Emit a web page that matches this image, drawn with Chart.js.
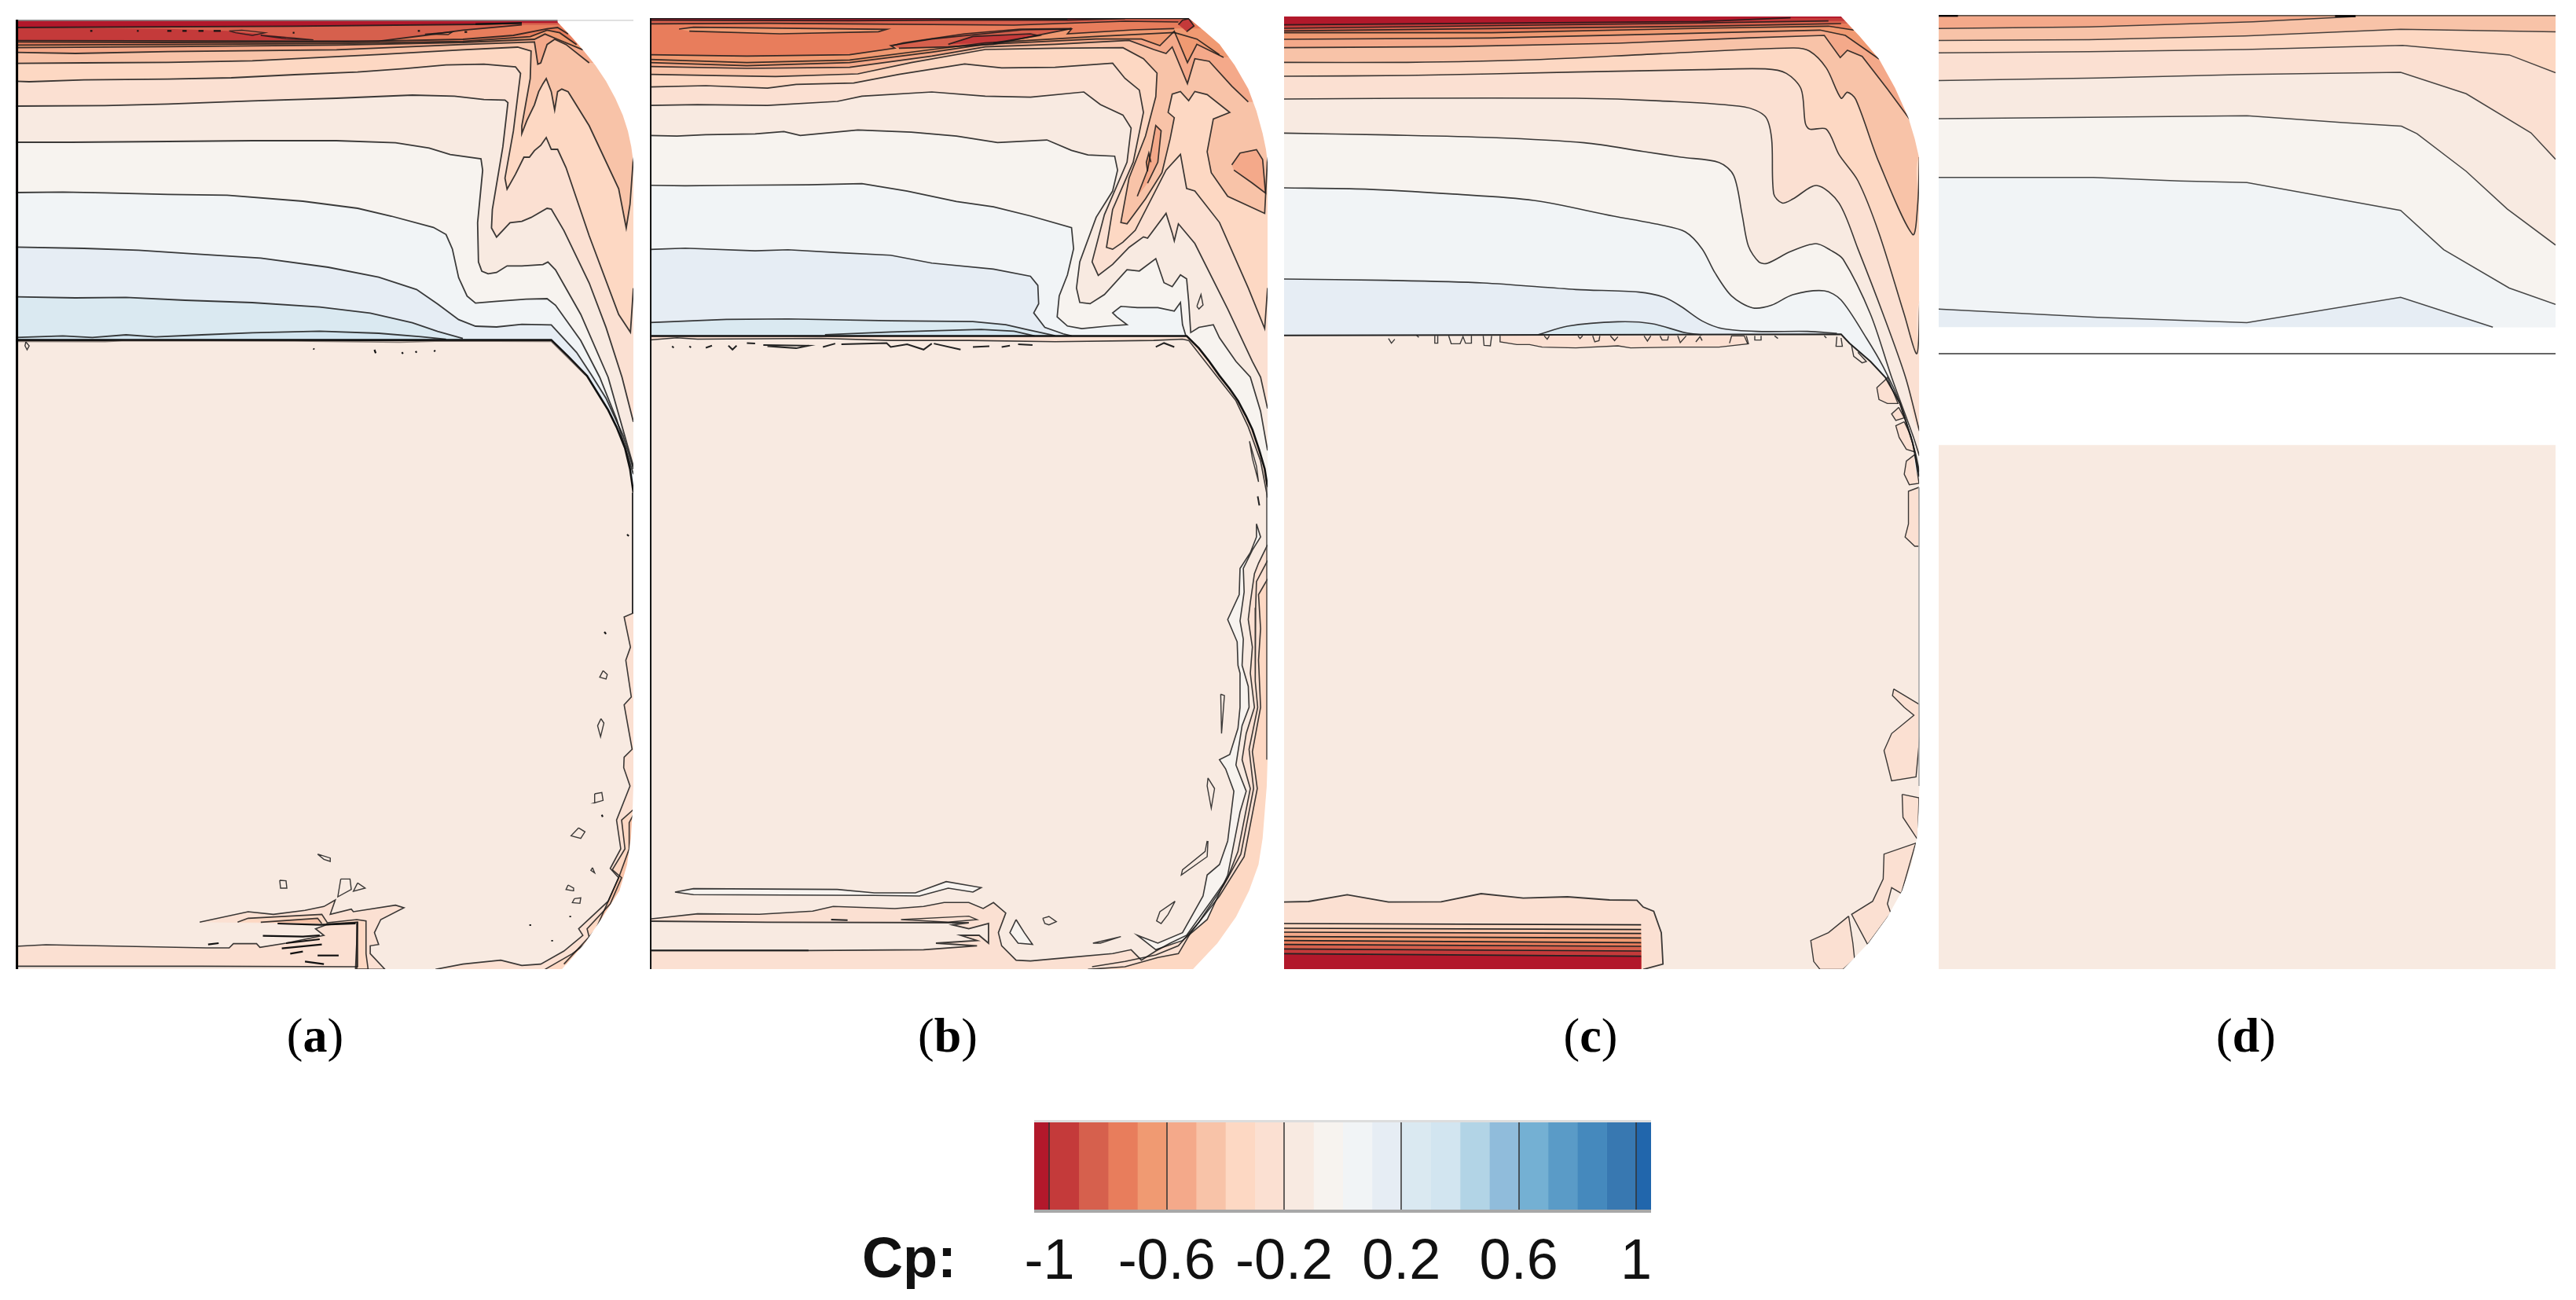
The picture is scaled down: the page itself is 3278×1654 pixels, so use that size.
<!DOCTYPE html>
<html>
<head>
<meta charset="utf-8">
<title>Cp contours</title>
<script src="https://cdn.jsdelivr.net/npm/chart.js@4/dist/chart.umd.min.js"></script>
<style>
  html, body { margin: 0; background: #fff; width: 3278px; height: 1654px; overflow: hidden; }
  canvas { position: absolute; }
  .sub { position: absolute; top: 1282px; width: 200px; text-align: center; font: 62px "Liberation Serif", serif; color: #000; line-height: 70px; }
  .sub b { font-weight: bold; }
  #cpTitle { position: absolute; left: 1097px; top: 1558px; font: bold 72px "Liberation Sans", sans-serif; color: #111; line-height: 84px; }
</style>
</head>
<body>
<canvas id="panelA"></canvas>
<canvas id="panelB"></canvas>
<canvas id="panelC"></canvas>
<canvas id="panelD"></canvas>
<canvas id="colorbar" width="980" height="244"></canvas>
<div class="sub" style="left:301px">(<b>a</b>)</div>
<div class="sub" style="left:1106px">(<b>b</b>)</div>
<div class="sub" style="left:1924px">(<b>c</b>)</div>
<div class="sub" style="left:2758px">(<b>d</b>)</div>
<div id="cpTitle">Cp:</div>

<script>
// ---- colour scale ----
const cpEdges = [-1.052, -1, -0.9, -0.8, -0.7, -0.6, -0.5, -0.4, -0.3, -0.2, -0.1, 0, 0.1, 0.2, 0.3, 0.4, 0.5, 0.6, 0.7, 0.8, 0.9, 1, 1.051];
const cpColors = ['#B2182B', '#C43A3A', '#D6604D', '#E87D5C', '#F09A72', '#F4A98A', '#F8C3A8', '#FDD8C3', '#FBE0D2', '#F8EAE1', '#F7F3EF',
                  '#F1F4F6', '#E6EDF4', '#DAE9F1', '#D2E5F0', '#B2D4E6', '#90BCDB', '#74B0D3', '#5A9BC7', '#4589BD', '#3878B1', '#2166AC'];
const cpTicks = [-1, -0.6, -0.2, 0.2, 0.6, 1];

// ---- panel (a) contours ----
const aSep = [[38,1298],[1310,1298],[1350,1360],[1395,1435],[1420,1500],[1445,1565],[1465,1630],[1485,1710],[1497,1790],[1505,1880]];
const aC1280 = [[38,1288],[150,1282],[220,1288],[300,1278],[370,1286],[480,1278],[600,1270],[760,1264],[900,1272],[1000,1285],[1060,1295]];
const aC1133 = [[38,1133],[180,1137],[300,1135],[440,1146],[600,1155],[760,1172],[880,1195],[980,1232],[1040,1265],[1100,1292]];
const aC943 = [[38,943],[200,948],[330,955],[450,968],[620,985],[780,1020],[900,1058],[990,1105],[1040,1160],[1090,1220],[1130,1245],[1180,1248],[1240,1238],[1310,1240],[1370,1345],[1405,1430],[1440,1520],[1480,1660],[1505,1790]];
const aC733 = [[38,735],[150,733],[250,736],[400,742],[540,745],[720,768],[850,795],[930,825],[1030,868],[1060,895],[1075,950],[1090,1060],[1110,1130],[1130,1157],[1180,1150],[1250,1142],[1300,1140],[1320,1165],[1380,1300],[1425,1440],[1465,1600],[1505,1810]];
const aC542 = [[38,543],[170,543],[400,540],[600,537],[800,537],[940,545],[1020,565],[1070,590],[1143,606],[1147,650],[1135,850],[1137,1000],[1145,1035],[1160,1045],[1180,1040],[1205,1015],[1240,1015],[1290,1010],[1302,1000],[1320,1030],[1380,1200],[1445,1440],[1505,1780]];
const aC403 = [[38,405],[250,403],[400,397],[600,385],[800,375],[980,363],[1080,367],[1150,380],[1200,382],[1207,392],[1195,560],[1170,800],[1168,870],[1180,905],[1212,850],[1240,845],[1262,830],[1300,795],[1310,798],[1340,880],[1400,1080],[1440,1250],[1478,1440],[1505,1610]];
const aC310 = [[38,310],[70,312],[200,305],[400,302],[550,297],[700,285],[850,275],[960,262],[1060,248],[1150,245],[1225,255],[1237,280],[1220,500],[1200,680],[1205,722],[1225,665],[1245,600],[1258,600],[1270,575],[1285,555],[1298,525],[1310,570],[1325,570],[1345,640],[1400,900],[1470,1200],[1498,1268],[1505,1100]];
const aC242 = [[38,242],[200,240],[400,238],[600,232],[900,208],[1100,190],[1230,180],[1262,195],[1260,300],[1240,480],[1240,510],[1252,460],[1270,400],[1280,350],[1290,320],[1298,300],[1310,350],[1318,420],[1325,350],[1335,340],[1350,350],[1400,480],[1470,720],[1488,870],[1497,780],[1505,600]];
const aC200 = [[38,200],[180,204],[400,197],[800,190],[1100,170],[1270,160],[1278,245],[1285,240],[1300,170],[1318,150],[1345,170],[1400,240]];
const aC182 = [[38,182],[400,178],[800,172],[1100,162],[1270,150],[1295,130],[1325,150],[1385,190]];
const aC172 = [[38,172],[400,170],[800,166],[1100,158],[1260,140],[1300,115],[1330,125],[1370,170]];
const aC160 = [[38,160],[400,162],[800,160],[1100,150],[1220,135],[1300,110],[1325,105],[1350,130]];
const aC155 = [[38,155],[900,157],[1010,135],[1100,115],[1240,95]];
const aC105 = [[38,105],[700,100],[1130,93],[1240,88]];
const aRed = [[38,155],[745,153],[620,130],[540,118],[400,110],[38,105]];
const aStrip = [[1505,2340],[1483,2355],[1498,2470],[1487,2520],[1500,2660],[1483,2690],[1502,2860],[1483,2890],[1482,2930],[1497,3000],[1465,3130],[1475,3240],[1450,3315],[1470,3350],[1445,3440],[1375,3545],[1385,3570],[1340,3630],[1285,3680],[1240,3685],[1190,3665],[1100,3680],[1035,3700]];
const aStripIn = [[1505,3090],[1477,3130],[1485,3240],[1455,3320],[1477,3350],[1450,3450],[1395,3545],[1402,3590],[1360,3640],[1295,3700]];
const aStripEdge = [[1505,3110],[1495,3140],[1495,3240],[1470,3350],[1415,3550],[1340,3680]];
const aBottom = [[38,3612],[110,3606],[300,3612],[490,3618],[545,3618],[555,3602],[610,3602],[618,3616],[680,3600],[770,3570],[750,3545],[775,3530],[850,3520],[850,3690],[480,3688],[38,3688]];
const aTongue = [[475,3520],[590,3480],[650,3490],[725,3475],[770,3460],[797,3435],[785,3490],[835,3470],[840,3480],[940,3455],[960,3465],[905,3510],[890,3560],[900,3605],[880,3610],[880,3640],[915,3700],[845,3700],[850,3520],[775,3527]];
const aTongueIn = [[565,3520],[590,3505],[765,3490],[778,3522],[848,3510],[870,3515],[870,3640],[875,3700],[848,3700],[848,3525]];
const aTongueCore = [[620,3520],[755,3505],[765,3525]];
const aIslands = [
  [[1433,2560],[1425,2585],[1440,2592],[1443,2575],[1433,2560]],
  [[1428,2743],[1420,2770],[1427,2812],[1435,2760],[1428,2743]],
  [[1413,3030],[1430,3025],[1433,3055],[1412,3065],[1413,3030]],
  [[1375,3160],[1357,3190],[1380,3200],[1390,3175],[1375,3160]],
  [[1408,3312],[1404,3322],[1413,3332],[1408,3312]],
  [[1350,3378],[1345,3395],[1362,3400],[1363,3390],[1350,3378]],
  [[1365,3430],[1360,3445],[1378,3448],[1380,3427],[1365,3430]],
  [[755,3260],[785,3275],[785,3288],[770,3280],[755,3260]],
  [[665,3360],[680,3362],[682,3390],[667,3390],[665,3360]],
  [[810,3355],[832,3355],[835,3395],[803,3423],[810,3355]],
  [[850,3370],[868,3390],[840,3402],[850,3370]],
  [[62,1305],[70,1320],[65,1335],[60,1320],[62,1305]],
  [[545,118],[575,115],[630,125],[600,135],[560,125],[545,118]],
  [[620,135],[700,145],[745,152],[680,148],[620,135]],
  [[1010,130],[1075,122],[1065,132],[1010,130]]
];
const aDashes = [
  [[660,3525],[760,3530],[845,3525]], [[625,3572],[720,3575],[760,3570]], [[680,3600],[760,3585]], [[670,3620],[765,3605]],
  [[690,3640],[720,3632]], [[755,3647],[805,3647]], [[725,3670],[770,3680]], [[495,3605],[520,3600]],
  [[1490,2040],[1494,2046]], [[1436,2412],[1440,2420]], [[1430,3110],[1432,3118]], [[1355,3496],[1355,3501]], [[1260,3528],[1260,3534]], [[1312,3588],[1312,3593]],
  [[215,118],[220,118]], [[326,118],[330,118]], [[398,118],[408,118]], [[434,118],[444,118]], [[472,118],[484,118]], [[508,118],[525,118]], [[696,125],[700,125]], [[993,118],[998,118]], [[1104,122],[1110,122]],
  [[890,1335],[893,1348]], [[745,1330],[747,1334]], [[955,1345],[958,1350]], [[988,1340],[990,1346]], [[1032,1337],[1034,1342]],
  [[1130,92],[1240,88]]
];
const aUnderSep = [[38,1303],[250,1304],[300,1300],[700,1302],[950,1306],[1050,1302],[1310,1303],[1390,1430]];
const aMask = [[1325,60],[1325,85],[1355,135],[1385,190],[1415,250],[1440,310],[1462,375],[1480,440],[1492,500],[1500,560],[1505,620],[1505,3000],[1503,3100],[1499,3200],[1490,3300],[1472,3400],[1432,3500],[1390,3600],[1335,3700],[1600,3720],[1600,60]];

// ---- panel (b) contours ----
const bSep = [[14,1283],[1320,1283],[1350,1330],[1375,1380],[1400,1435],[1425,1485],[1445,1530],[1465,1590],[1480,1640],[1497,1720],[1510,1790],[1517,1860]];
const bUnderSep = [[14,1298],[80,1290],[130,1295],[430,1292],[600,1300],[790,1300],[1000,1305],[1240,1300],[1310,1295],[1325,1300],[1390,1430],[1440,1530],[1470,1630],[1500,1760],[1517,1900]];
const bLens = [[440,1278],[600,1268],[820,1258],[900,1265],[950,1283]];
const bC1232 = [[14,1232],[200,1220],[350,1218],[600,1225],[800,1228],[880,1240],[930,1258],[1000,1282]];
const bC950 = [[14,953],[100,948],[270,958],[350,954],[470,965],[600,975],[700,1005],[850,1028],[940,1055],[958,1090],[960,1160],[948,1195],[975,1250],[1020,1275],[1040,1283]];
const bC708 = [[14,708],[100,710],[210,708],[400,706],[530,702],[640,730],[760,770],[850,790],[940,825],[1040,870],[1045,950],[1030,1050],[1010,1130],[1005,1210],[1030,1245],[1065,1255],[1130,1245],[1175,1240],[1150,1210],[1140,1195],[1160,1170],[1200,1175],[1250,1175],[1290,1188],[1305,1155],[1310,1240],[1318,1282]];
const bC518 = [[14,518],[80,520],[150,515],[270,512],[340,503],[380,518],[520,497],[650,505],[760,520],[860,545],[980,535],[1040,575],[1080,592],[1145,597],[1152,650],[1140,730],[1100,830],[1060,1000],[1052,1100],[1060,1155],[1085,1160],[1120,1125],[1175,1030],[1205,1035],[1245,988],[1265,1080],[1285,1095],[1305,1050],[1320,1065],[1325,1150],[1330,1270],[1350,1250],[1385,1240],[1400,1290],[1440,1380],[1475,1440],[1500,1570],[1517,1720]];
const bC403 = [[14,403],[130,400],[300,403],[470,388],[530,368],[700,352],[830,368],[940,372],[1070,352],[1110,400],[1165,440],[1185,490],[1175,620],[1120,820],[1090,1000],[1105,1052],[1140,1010],[1180,945],[1215,905],[1225,910],[1270,815],[1285,890],[1290,920],[1300,855],[1340,930],[1420,1180],[1480,1380],[1500,1440],[1517,1560]];
const bC330 = [[14,333],[150,328],[300,337],[370,323],[510,318],[620,285],[780,245],[870,260],[1000,258],[1140,242],[1170,300],[1205,345],[1215,430],[1190,620],[1140,800],[1125,945],[1140,952],[1165,925],[1195,880],[1270,650],[1305,590],[1320,720],[1340,730],[1400,850],[1470,1100],[1510,1255],[1517,1100]];
const bC290 = [[14,285],[200,290],[320,293],[520,283],[650,240],[830,190],[1000,185],[1165,183],[1215,225],[1248,280],[1245,370],[1220,520],[1180,680],[1160,850],[1175,855],[1220,760],[1260,660],[1280,530],[1290,450],[1275,430],[1285,360],[1305,350],[1325,385],[1340,350],[1370,362],[1425,430],[1385,455],[1370,580],[1380,660],[1420,750],[1510,815],[1517,600]];
const bC262 = [[14,255],[250,262],[500,258],[700,215],[830,180],[1000,170],[1180,155],[1240,190],[1270,205],[1285,180],[1322,320],[1340,225],[1375,235],[1430,330],[1470,390]];
const bC240 = [[14,240],[250,252],[500,240],[700,200],[830,170],[1100,150],[1210,150],[1255,175],[1290,120],[1322,240],[1345,170],[1410,220]];
const bC228 = [[14,228],[250,240],[500,230],[700,190],[830,165],[1100,140],[1290,125],[1345,150],[1400,210]];
const bC92 = [[14,92],[300,90],[900,97],[1170,82],[1300,85]];
const bC78 = [[14,78],[500,80],[720,78],[1030,78],[1170,72]];
const bC210 = [[14,210],[250,215],[500,210],[610,185],[600,175],[700,150],[920,115],[1040,112],[1030,130],[1190,115],[1290,110]];
const bLensLight = [[85,112],[120,105],[590,113],[570,122],[330,130],[110,120]];
const bLensMid = [[605,175],[630,165],[780,130],[915,112],[1040,110],[960,135],[850,170],[740,180],[620,185]];
const bLensRed = [[740,170],[800,140],[940,130],[960,137],[850,165]];
const bPeak = [[1300,95],[1310,78],[1325,72],[1338,100],[1320,122]];
const bTongueLens = [[1200,750],[1225,650],[1245,480],[1258,500],[1250,620],[1225,700]];
const bTongueCore = [[1225,655],[1222,620],[1228,585],[1233,620]];
const bSideLens = [[1430,630],[1450,585],[1490,572],[1505,610],[1512,738],[1480,700],[1435,650]];
const bOuter = [[1517,2080],[1495,2150],[1485,2190],[1475,2300],[1470,2365],[1480,2470],[1475,2570],[1485,2700],[1465,2800],[1455,2900],[1475,3010],[1445,3250],[1420,3350],[1375,3450],[1320,3570],[1280,3600],[1245,3630],[1210,3665],[1185,3625],[1140,3640],[1030,3655],[940,3668],[905,3665],[870,3610],[862,3560],[880,3485],[850,3445],[825,3468],[790,3445],[730,3445],[680,3460],[610,3468],[460,3460],[410,3478],[280,3490],[130,3488],[14,3508]];
const bOuterClose = [[14,3700],[1600,3700],[1600,2080]];
const bPocket = [[14,3516],[300,3520],[790,3522],[750,3530],[790,3545],[838,3525],[838,3600],[815,3570],[770,3570],[810,3590],[710,3600],[810,3610],[680,3625],[400,3628],[14,3628]];
const bEdgeStrip = [[1517,2210],[1495,2270],[1500,2400],[1495,2520],[1500,2700],[1480,2870],[1492,3010],[1460,3270],[1400,3420],[1330,3560],[1300,3640],[1250,3655],[1170,3690],[1080,3700]];
const bMidLine = [[1517,2140],[1490,2220],[1488,2320],[1487,2470],[1487,2600],[1493,2700],[1472,2860],[1483,3010],[1452,3260],[1410,3380],[1350,3520],[1300,3610],[1245,3645],[1170,3670],[1090,3690]];
const bSliver = [[1490,2000],[1490,2050],[1475,2110],[1450,2170],[1448,2270],[1420,2365],[1443,2450],[1445,2540],[1450,2570],[1450,2700],[1445,2780],[1425,2880],[1400,2900],[1415,2935],[1435,3020],[1420,3210],[1400,3300],[1370,3340],[1360,3420],[1310,3560],[1250,3600],[1200,3570],[1245,3625],[1310,3590],[1370,3510],[1420,3340],[1450,3100],[1465,3020],[1440,2920],[1455,2770],[1472,2700],[1470,2620],[1455,2540],[1458,2440],[1450,2370],[1460,2260],[1458,2170],[1480,2100],[1500,2050],[1490,2000]];
const bFeather = [[75,3405],[120,3392],[470,3395],[560,3408],[660,3408],[735,3365],[820,3388],[800,3405],[740,3390],[670,3420],[560,3418],[120,3415],[75,3405]];
const bWedge = [[905,3510],[890,3560],[910,3600],[945,3605],[925,3560],[905,3510]];
const bIslands = [
  [[970,3505],[985,3498],[1003,3518],[985,3530],[975,3525],[970,3505]],
  [[1092,3600],[1160,3575],[1110,3600],[1092,3600]],
  [[1292,3440],[1255,3480],[1247,3515],[1258,3525],[1275,3490],[1292,3440]],
  [[1370,3210],[1365,3250],[1310,3320],[1307,3340],[1370,3270],[1372,3210]],
  [[1372,2970],[1388,3010],[1380,3085],[1370,3000],[1372,2970]],
  [[1345,1170],[1355,1125],[1360,1165],[1350,1180],[1345,1170]],
  [[625,3510],[790,3497],[810,3510],[740,3520],[625,3510]],
  [[1473,1685],[1490,1780],[1495,1840],[1480,1750],[1473,1685]],
  [[1403,2650],[1412,2655],[1405,2800],[1403,2650]]
];
const bDashes = [
  [[455,3510],[495,3512]], [[1493,1895],[1497,1930]], [[14,3628],[400,3628]],
  [[290,1318],[400,1320],[370,1330],[300,1322]], [[435,1325],[465,1312]], [[480,1315],[590,1310],[600,1325],[640,1315],[680,1335],[700,1312]],
  [[705,1312],[770,1335]], [[800,1325],[840,1322]], [[870,1325],[890,1320]], [[910,1315],[945,1318]], [[1245,1325],[1265,1310],[1290,1325]],
  [[205,1320],[215,1335],[225,1320]], [[250,1310],[270,1312]], [[68,1322],[72,1328]], [[110,1322],[114,1327]], [[150,1328],[165,1320]],
  [[720,73],[1030,74]]
];
const bMask = [[1325,50],[1325,70],[1362,118],[1400,170],[1437,250],[1470,340],[1490,425],[1505,510],[1513,570],[1517,620],[1517,2900],[1515,3000],[1510,3100],[1505,3200],[1495,3300],[1472,3400],[1440,3500],[1395,3600],[1335,3700],[1600,3720],[1600,50]];

// ---- panel (c) contours ----
const cSep = [[7,1280],[1330,1276],[1350,1310],[1400,1380],[1435,1440],[1470,1540],[1500,1690],[1516,1820]];
const cLens = [[610,1278],[680,1245],[800,1228],[880,1235],[960,1270],[1000,1278]];
const cC1065 = [[7,1065],[250,1070],[480,1080],[700,1105],[850,1115],[910,1135],[950,1170],[1000,1225],[1050,1255],[1130,1265],[1250,1265],[1320,1272]];
const cC717 = [[7,717],[200,722],[400,740],[600,765],[790,825],[900,858],[960,885],[1000,950],[1030,1040],[1070,1130],[1120,1175],[1165,1165],[1215,1125],[1290,1110],[1330,1145],[1390,1290],[1430,1400],[1470,1540],[1505,1720],[1516,1800]];
const cC508 = [[7,508],[250,515],[500,525],[720,545],[860,578],[950,600],[1040,620],[1075,670],[1095,820],[1110,940],[1135,1000],[1155,1005],[1210,960],[1270,930],[1305,955],[1335,990],[1400,1200],[1450,1440],[1500,1660],[1516,1740]];
const cC376 = [[7,378],[300,375],[700,375],[900,385],[1100,408],[1150,445],[1165,530],[1170,740],[1190,775],[1215,760],[1272,708],[1325,775],[1370,950],[1430,1200],[1483,1440],[1516,1645]];
const cC291 = [[7,291],[300,288],[700,275],[1000,266],[1150,263],[1200,280],[1235,340],[1245,470],[1255,493],[1295,493],[1325,590],[1370,690],[1420,890],[1480,1200],[1510,1350],[1517,1150]];
const cC238 = [[7,238],[300,238],[600,228],[900,205],[1215,183],[1255,195],[1295,260],[1330,375],[1345,352],[1365,380],[1420,620],[1500,895],[1512,780],[1516,600]];
const cC182 = [[7,182],[400,178],[800,165],[1100,145],[1290,135],[1328,220],[1345,192],[1380,215],[1440,340],[1495,460]];
const cC150 = [[7,150],[500,145],[900,130],[1280,115],[1340,135],[1420,225]];
const cC125 = [[7,125],[500,125],[1000,108],[1300,100],[1360,115]];
const cC118 = [[7,118],[1000,100],[1330,90]];
const cC108 = [[7,108],[900,90],[1300,80]];
const cC95 = [[7,95],[1000,82],[1210,68]];
const cUnderSep = [[520,1282],[520,1305],[560,1315],[590,1315],[620,1325],[700,1328],[800,1320],[830,1328],[940,1325],[1040,1325],[1110,1312],[1105,1282]];
const cTeeth = [
  [[255,1292],[262,1310],[270,1295]], [[322,1280],[327,1288]], [[365,1282],[365,1310],[372,1310],[372,1282]],
  [[398,1282],[404,1312],[425,1312],[432,1285],[438,1310],[452,1310],[452,1282]], [[480,1282],[482,1318],[497,1320],[500,1282]],
  [[625,1282],[632,1295],[637,1282]], [[705,1282],[710,1292],[716,1282]], [[740,1282],[745,1305],[755,1300],[757,1282]],
  [[782,1282],[792,1300],[800,1285]], [[862,1282],[870,1302],[878,1282]], [[900,1282],[905,1298],[918,1298],[920,1282]], [[942,1282],[948,1308],[962,1282]],
  [[985,1305],[995,1285],[1000,1300]], [[1065,1310],[1070,1282],[1100,1282],[1108,1312]], [[1125,1282],[1125,1298],[1140,1298],[1140,1282]],
  [[1172,1282],[1180,1292]], [[1290,1282],[1295,1290]], [[1320,1285],[1318,1322],[1333,1322],[1330,1290]],
  [[1355,1320],[1360,1360],[1380,1385],[1390,1380],[1370,1345]]
];
const cBlocks = [
  [[1435,1450],[1415,1480],[1420,1525],[1440,1540],[1465,1540],[1440,1440]],
  [[1467,1555],[1450,1580],[1460,1605],[1480,1595]],
  [[1480,1610],[1460,1625],[1468,1670],[1485,1715],[1505,1725],[1495,1660]],
  [[1505,1735],[1485,1760],[1480,1810],[1492,1850],[1515,1845]],
  [[1515,1860],[1490,1875],[1490,2000],[1482,2050],[1505,2085],[1517,2085]],
  [[1455,2630],[1452,2655],[1480,2700],[1503,2730],[1450,2800],[1432,2865],[1450,2980],[1508,2965],[1517,2810],[1517,2690]],
  [[1475,3032],[1515,3045],[1512,3205],[1477,3120]],
  [[1508,3218],[1432,3260],[1430,3355],[1405,3440],[1355,3490],[1393,3605],[1448,3485],[1440,3450],[1450,3388],[1473,3410],[1505,3230]],
  [[1348,3497],[1300,3560],[1258,3590],[1265,3670],[1280,3700],[1335,3700],[1362,3660],[1358,3600]]
];
const cFoot = [[7,3443],[65,3441],[157,3415],[255,3443],[380,3442],[475,3411],[575,3428],[680,3423],[780,3435],[845,3436],[860,3462],[885,3478],[903,3560],[907,3680],[860,3700],[7,3700]];
const cFootLeft = [7, 3525, 3543, 3558, 3575, 3590, 3605, 3622, 3640];
const cFootRight = [855, 3530, 3548, 3563, 3580, 3598, 3612, 3630, 3650];
const cMask = [[1330,40],[1330,63],[1375,140],[1420,225],[1458,335],[1490,450],[1505,530],[1515,600],[1516,3000],[1514,3100],[1510,3200],[1497,3300],[1475,3400],[1440,3500],[1395,3600],[1335,3700],[1600,3720],[1600,40]];

// ---- panel (d) contours ----
const dC1050 = [[13,1028],[400,1055],[765,1073],[1140,989],[1365,1088]];
const dC590 = [[13,590],[390,590],[600,602],[765,607],[1140,700],[1245,830],[1405,958],[1518,1012]];
const dC390 = [[13,395],[380,390],[765,385],[1000,408],[1142,420],[1180,445],[1300,570],[1400,695],[1518,815]];
const dC260 = [[13,268],[400,260],[760,248],[1140,241],[1300,312],[1458,442],[1518,530]];
const dC172 = [[13,176],[380,172],[760,165],[1145,151],[1405,183],[1518,242]];
const dC132 = [[13,135],[380,132],[760,120],[1140,98],[1518,106]];
const dC90 = [[13,95],[380,90],[780,73],[1030,55]];
const dFieldTop = [[13,52],[1518,52],[1518,1088],[13,1088]];
const dFieldLow = [[13,1480],[1518,1480],[1518,3222],[13,3222]];
const dRule = [[13,1176],[1518,1176]];
const dTopRule = [[13,52],[1518,52]];
const dTopMarks = [[[13,53],[60,53]], [[980,54],[1030,54]]];

// ---- drawing helpers ----
const FAR = 1600;
const ink = 'rgba(25,25,25,0.85)';
const xy = pts => pts.map(p => ({ x: p[0], y: p[1] }));

// polygon holding everything above a contour, optionally running on along the separator
function above(line, sep) {
    const lastX = line[line.length - 1][0];
    const rest = sep ? sep.filter(p => p[0] > lastX) : [];
    const end = rest.length ? rest[rest.length - 1] : line[line.length - 1];
    return line.concat(rest, [[FAR, end[1]], [FAR, 0], [0, 0]]);
}
const area = (pts, color) => ({ data: xy(pts), fill: 'shape', backgroundColor: color, borderColor: 'transparent', borderWidth: 0, pointRadius: 0 });
const stroke = (pts, color, width) => ({ data: xy(pts), fill: false, borderColor: color || ink, borderWidth: width || 1.6, pointRadius: 0 });
const rect = r => [[r.xMin, r.yMin], [r.xMax, r.yMin], [r.xMax, r.yMax], [r.xMin, r.yMax]];
const soft = ds => ({ ...ds, tension: 0.3 });

function drawPanel(id, crop, range, layers) {
    const sx = 1568 / crop.w;
    const sy = crop.sy || 3;
    const canvas = document.getElementById(id);
    canvas.width = Math.round((range.xMax - range.xMin) / sx);
    canvas.height = Math.round((range.yMax - range.yMin) / sy);
    canvas.style.left = Math.round(crop.x + range.xMin / sx) + 'px';
    canvas.style.top = Math.round(range.yMin / sy) + 'px';
    new Chart(canvas.getContext('2d'), {
        type: 'line',
        // chart.js paints the first dataset last
        data: { datasets: layers.slice().reverse() },
        options: {
            responsive: false,
            animation: false,
            layout: { padding: 0 },
            events: [],
            elements: { line: { tension: 0 } },
            plugins: { legend: { display: false }, tooltip: { enabled: false } },
            scales: {
                x: { type: 'linear', display: false, min: range.xMin, max: range.xMax },
                y: { type: 'linear', display: false, min: range.yMin, max: range.yMax, reverse: true }
            }
        }
    });
}

// ---- panel (a) ----
const rangeA = { xMin: 38, xMax: 1505, yMin: 75, yMax: 3699 };
drawPanel('panelA', { x: 0, w: 840 }, rangeA, [
    area(rect(rangeA), cpColors[9]),
    area(aStrip.concat([[FAR, 3720], [FAR, 2340]]), cpColors[8]),
    area(aStripIn.concat([[FAR, 3720], [FAR, 3090]]), cpColors[7]),
    area(aStripEdge.concat([[FAR, 3720], [FAR, 3110]]), cpColors[6]),
    area(aBottom, cpColors[8]), area(aTongue, cpColors[8]), area(aTongueIn, cpColors[7]), area(aTongueCore, cpColors[6]),
    area(above(aSep), cpColors[14]),
    area(above(aC1280, aSep), cpColors[13]),
    area(above(aC1133, aSep), cpColors[12]),
    area(above(aC943), cpColors[11]),
    area(above(aC733), cpColors[10]),
    area(above(aC542), cpColors[9]),
    area(above(aC403), cpColors[8]),
    area(above(aC310), cpColors[7]),
    area(above(aC242), cpColors[6]),
    area(above(aC200), cpColors[5]),
    area(above(aC182), cpColors[4]),
    area(above(aC172), cpColors[3]),
    area(above(aC155), cpColors[2]),
    area(aRed, cpColors[1]),
    area(above(aC105), cpColors[0]),
    ...[aC1280, aC1133, aC943, aC733, aC542, aC403, aC310, aC242, aC200, aC182, aC172, aC160, aC155, aC105].map(l => stroke(l, ink, 1.8)),
    stroke(aSep, '#111', 2.6), stroke(aUnderSep, 'rgba(60,50,45,0.6)', 1.6),
    stroke(aStrip), stroke(aStripIn), stroke(aStripEdge), stroke(aBottom), stroke(aTongue), stroke(aTongueIn), stroke(aTongueCore),
    ...aIslands.map(l => stroke(l, ink, 1.4)),
    ...aDashes.map(l => stroke(l, '#111', 2.2)),
    area(aMask, '#ffffff'),
    stroke([[38, 77], [1325, 77]], '#8a8a8a', 2.4),
    stroke([[1325, 77], [1505, 77]], '#dcdcdc', 2.4),
    stroke([[1503, 1880], [1503, 2340]], '#222', 1.8),
    stroke([[41, 75], [41, 3699]], '#000', 3)
]);

// ---- panel (b) ----
const rangeB = { xMin: 14, xMax: 1517, yMin: 70, yMax: 3699 };
drawPanel('panelB', { x: 820, w: 820 }, rangeB, [
    area(rect(rangeB), cpColors[9]),
    area(bOuter.concat(bOuterClose), cpColors[8]),
    area(bPocket, cpColors[9]),
    area(bEdgeStrip.concat([[FAR, 3720], [FAR, 2210]]), cpColors[7]),
    area(bSliver, cpColors[10]),
    area(bFeather, cpColors[10]), area(bWedge, cpColors[10]),
    area(above(bUnderSep), cpColors[8]),
    area(above(bSep), cpColors[14]),
    area(above([[14, 1283], ...bLens], bSep), cpColors[13]),
    area(above(bC1232, bSep), cpColors[12]),
    area(above(bC950, bSep), cpColors[11]),
    area(above(bC708, bSep), cpColors[10]),
    area(above(bC518), cpColors[9]),
    area(above(bC403), cpColors[8]),
    area(above(bC330), cpColors[7]),
    area(above(bC290), cpColors[6]),
    area(bTongueLens, cpColors[5]), area(bTongueCore, cpColors[4]), area(bSideLens, cpColors[5]),
    area(above(bC262), cpColors[5]),
    area(above(bC240), cpColors[4]),
    area(above(bC228), cpColors[4]),
    area(above(bC210), cpColors[3]),
    area(bLensLight, cpColors[4]), area(bLensMid, cpColors[2]), area(bLensRed, cpColors[1]),
    area(above(bC92), cpColors[2]),
    area(above(bC78), cpColors[0]),
    area(bPeak, cpColors[1]),
    ...[bLens, bC1232, bC950, bC708, bC518, bC403, bC330, bC290, bC262, bC240, bC228, bC210, bC92, bC78, bLensLight, bLensMid, bLensRed, bPeak, bTongueLens, bTongueCore, bSideLens].map(l => stroke(l, ink, 1.7)),
    stroke(bSep, '#111', 2.6), stroke(bUnderSep, ink, 1.6),
    stroke(bOuter), stroke(bEdgeStrip), stroke(bMidLine), stroke(bSliver), stroke(bFeather), stroke(bWedge), stroke(bPocket, ink, 1.8),
    ...bIslands.map(l => stroke(l, ink, 1.4)),
    ...bDashes.map(l => stroke(l, '#222', 2)),
    area(bMask, '#ffffff'),
    stroke([[14, 71], [1325, 71]], '#1a1a1a', 2),
    stroke([[1515, 1860], [1515, 2900]], '#444', 1.4),
    stroke([[16, 70], [16, 3699]], '#111', 2)
]);

// ---- panel (c) ----
const rangeC = { xMin: 7, xMax: 1517, yMin: 63, yMax: 3699 };
drawPanel('panelC', { x: 1630, w: 840 }, rangeC, [
    area(rect(rangeC), cpColors[9]),
    ...cBlocks.map(b => area(b, cpColors[8])),
    area(cUnderSep, cpColors[8]),
    area(cFoot, cpColors[8]),
    ...cFootLeft.slice(1).map((y, i) => area([[cFootLeft[0], y], [cFootRight[0], cFootRight[i + 1]], [cFootRight[0], 3700], [cFootLeft[0], 3700]], cpColors[7 - i])),
    area(above(cSep), cpColors[13]),
    area(above([[7, 1280], ...cLens], cSep), cpColors[12]),
    soft(area(above(cC1065, cSep), cpColors[11])),
    soft(area(above(cC717), cpColors[10])),
    soft(area(above(cC508), cpColors[9])),
    soft(area(above(cC376), cpColors[8])),
    soft(area(above(cC291), cpColors[7])),
    soft(area(above(cC238), cpColors[6])),
    area(above(cC182), cpColors[5]),
    area(above(cC150), cpColors[4]),
    area(above(cC125), cpColors[3]),
    area(above(cC118), cpColors[2]),
    area(above(cC108), cpColors[1]),
    area(above(cC95), cpColors[0]),
    ...[cLens, cC1065, cC717, cC508, cC376, cC291, cC238].map(l => soft(stroke(l, ink, 1.6))),
    ...[cC182, cC150, cC125, cC118, cC108, cC95].map(l => stroke(l, ink, 1.6)),
    stroke(cSep, '#222', 2),
    stroke(cUnderSep, ink, 1.4),
    ...cTeeth.map(l => stroke(l, ink, 1.4)),
    ...cBlocks.map(l => stroke(l.concat([l[0]]), ink, 1.4)),
    stroke(cFoot.slice(0, 15), ink, 1.8),
    ...cFootLeft.slice(1).map((y, i) => stroke([[cFootLeft[0], y], [cFootRight[0], cFootRight[i + 1]]], '#222', 1.6)),
    area(cMask, '#ffffff'),
    stroke([[1515, 1860], [1515, 3000]], '#aaa', 1.6)
]);

// ---- panel (d) ----
const rangeD = { xMin: 13, xMax: 1518, yMin: 50, yMax: 3222 };
drawPanel('panelD', { x: 2460, w: 818, sy: 2.613 }, rangeD, [
    area(dFieldLow, cpColors[9]),
    area(dFieldTop, cpColors[12]),
    area([...dC1050, [1518, 1088], [1518, 52], [13, 52]], cpColors[11]),
    area([...dC590, [1518, 52], [13, 52]], cpColors[10]),
    area([...dC390, [1518, 52], [13, 52]], cpColors[9]),
    area([...dC260, [1518, 52], [13, 52]], cpColors[8]),
    area([...dC172, [1518, 52], [13, 52]], cpColors[7]),
    area([...dC132, [1518, 52], [13, 52]], cpColors[6]),
    area([...dC90, [13, 52]], cpColors[5]),
    ...[dC1050, dC590, dC390, dC260, dC172, dC132, dC90].map(l => stroke(l, 'rgba(40,40,40,0.85)', 1.5)),
    stroke(dRule, '#666', 2),
    stroke(dTopRule, '#5f5248', 2.2),
    ...dTopMarks.map(l => stroke(l, '#000', 2.4))
]);

// ---- colour bar ----
// thin frame above and below the bar
const barFrame = {
    id: 'barFrame',
    afterDraw(chart) {
        const { ctx, chartArea: a } = chart;
        ctx.save();
        ctx.fillStyle = '#dddddd';
        ctx.fillRect(a.left, a.top - 3, a.right - a.left, 3);
        ctx.fillStyle = '#a8a8a8';
        ctx.fillRect(a.left, a.bottom - 1, a.right - a.left, 4);
        ctx.restore();
    }
};
const cbCanvas = document.getElementById('colorbar');
cbCanvas.style.left = '1200px';
cbCanvas.style.top = '1410px';
new Chart(cbCanvas.getContext('2d'), {
    type: 'bar',
    data: {
        labels: ['Cp'],
        datasets: cpColors.map((color, i) => ({ data: [[cpEdges[i], cpEdges[i + 1]]], backgroundColor: color, barPercentage: 1, categoryPercentage: 1, grouped: false }))
    },
    plugins: [barFrame],
    options: {
        indexAxis: 'y',
        responsive: false,
        animation: false,
        events: [],
        layout: { padding: { left: 116, right: 79, top: 18, bottom: 0 } },
        plugins: { legend: { display: false }, tooltip: { enabled: false } },
        scales: {
            y: { display: false },
            x: {
                type: 'linear',
                min: cpEdges[0],
                max: cpEdges[cpEdges.length - 1],
                afterFit: s => { s.height = 114; },
                afterBuildTicks: s => { s.ticks = cpTicks.map(v => ({ value: v })); },
                grid: { color: 'rgba(50,50,50,0.75)', lineWidth: 2, drawTicks: false, z: 1 },
                border: { display: false },
                ticks: {
                    autoSkip: false, maxRotation: 0, padding: 24, color: '#111',
                    font: { family: '"Liberation Sans"', size: 72 },
                    callback: v => String(v)
                }
            }
        }
    }
});
</script>
</body>
</html>
